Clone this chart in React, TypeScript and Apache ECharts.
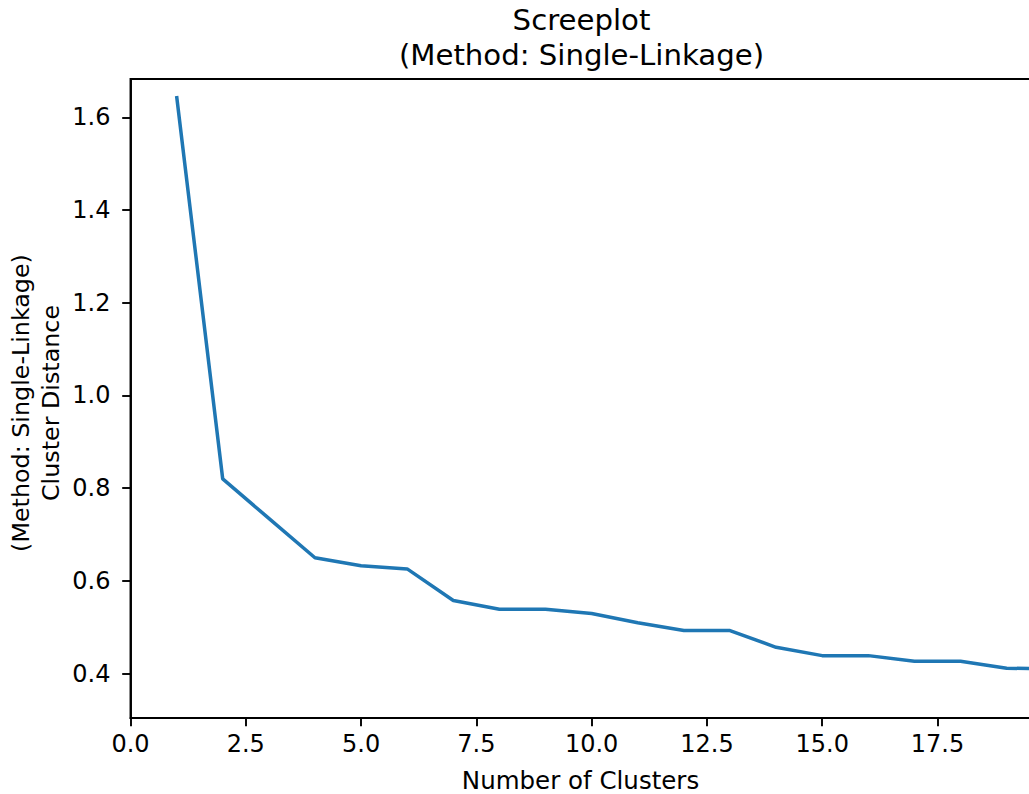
import React, { useEffect, useRef } from "react";
import * as echarts from "echarts";

const clusters = [1, 2, 3, 4, 5, 6, 7, 8, 9, 10, 11, 12, 13, 14, 15, 16, 17, 18, 19, 20];
const distances = [1.646, 0.82, 0.735, 0.65, 0.633, 0.626, 0.558, 0.539, 0.539, 0.53, 0.51, 0.493, 0.493, 0.457, 0.439, 0.439, 0.427, 0.427, 0.412, 0.41];
const xTicks = [0, 2.5, 5, 7.5, 10, 12.5, 15, 17.5];
const yTicks = [0.4, 0.6, 0.8, 1.0, 1.2, 1.4, 1.6];
const titleText = "Screeplot\n(Method: Single-Linkage)";
const xLabel = "Number of Clusters";
const yLabel = "(Method: Single-Linkage)\nCluster Distance";

const FONT = "'DejaVu Sans', sans-serif";

export default function App() {
  const ref = useRef<HTMLDivElement>(null);
  useEffect(() => {
    if (!ref.current) return;
    const chart = echarts.init(ref.current, undefined, { renderer: "svg" });
    const left = 130.5, top = 79, width = 902, height = 639;
    chart.setOption({
      animation: false,
      backgroundColor: "#ffffff",
      title: {
        text: titleText,
        left: left + width / 2 - 5,
        top: -3,
        textAlign: "center",
        textStyle: { fontFamily: FONT, fontSize: 29.2, fontWeight: "normal", color: "#000", lineHeight: 35 },
      },
      grid: { left, top, width, height, show: true, borderColor: "#000", borderWidth: 1.9, backgroundColor: "transparent" },
      xAxis: {
        type: "value",
        min: 0,
        max: 19.56,
        splitLine: { show: false },
        axisLine: { show: true, lineStyle: { color: "#000", width: 1.9 } },
        axisTick: { show: true, customValues: xTicks, length: 8.3, lineStyle: { color: "#000", width: 1.9 } },
        axisLabel: {
          customValues: xTicks,
          margin: 14,
          fontFamily: FONT,
          fontSize: 24,
          color: "#000",
          formatter: (v: number) => v.toFixed(1),
        },
      },
      yAxis: {
        type: "value",
        min: 0.3045,
        max: 1.6825,
        splitLine: { show: false },
        axisLine: { show: true, lineStyle: { color: "#000", width: 1.9 } },
        axisTick: { show: true, customValues: yTicks, length: 8.3, lineStyle: { color: "#000", width: 1.9 } },
        axisLabel: {
          customValues: yTicks,
          margin: 20,
          fontFamily: FONT,
          fontSize: 24,
          color: "#000",
          formatter: (v: number) => v.toFixed(1),
        },
      },
      graphic: [
        {
          type: "text",
          x: left + width / 2 - 1,
          y: 780,
          style: { text: xLabel, align: "center", verticalAlign: "middle", font: `24.5px ${FONT}`, fill: "#000" },
        },
        {
          type: "text",
          x: 36,
          y: 403,
          rotation: Math.PI / 2,
          style: { text: yLabel, align: "center", verticalAlign: "middle", font: `23.8px ${FONT}`, fill: "#000", lineHeight: 29.5 },
        },
      ],
      series: [
        {
          type: "line",
          data: clusters.map((c, i) => [c, distances[i]]),
          showSymbol: false,
          clip: true,
          lineStyle: { color: "#1f77b4", width: 3.5 },
          itemStyle: { color: "#1f77b4" },
        },
      ],
    });
    return () => chart.dispose();
  }, []);
  return (
    <div style={{ position: "fixed", left: 0, top: 0, width: 1029, height: 794, overflow: "hidden", background: "#fff" }}>
      <div ref={ref} style={{ width: 1040, height: 794 }} />
    </div>
  );
}
